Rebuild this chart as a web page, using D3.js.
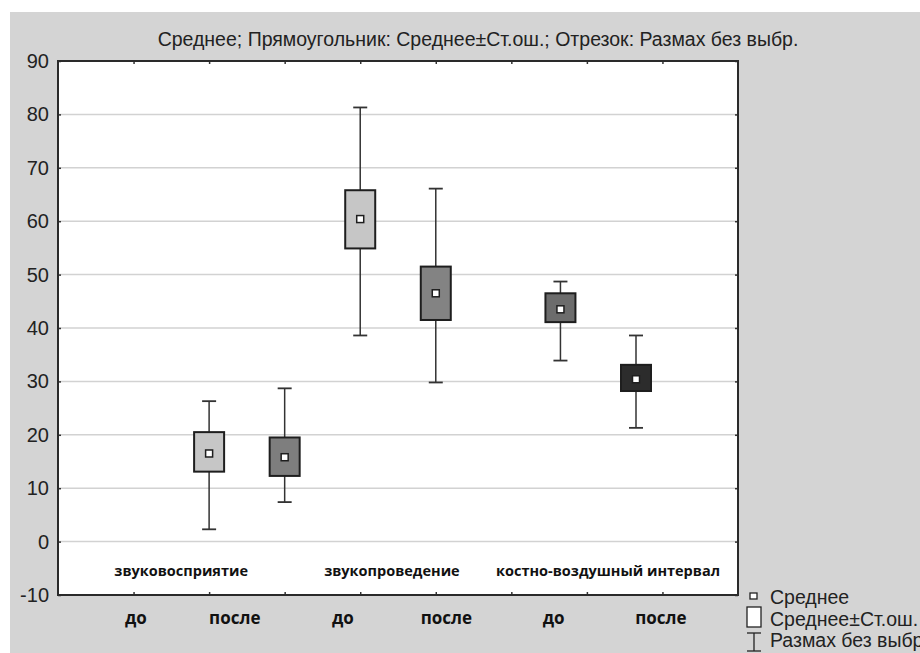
<!DOCTYPE html>
<html>
<head>
<meta charset="utf-8">
<script src="https://cdn.jsdelivr.net/npm/d3@7"></script>
<style>
  body { margin: 0; background: #fff; }
  text { font-family: "Liberation Sans", Arial, sans-serif; }
  .bold { font-family: "Open Sans", "DejaVu Sans", sans-serif; font-weight: 700; }
</style>
</head>
<body>
<svg id="chart" width="920" height="653"></svg>
<script>
// data
var boxPos   = [2, 3, 4, 5, 6.65, 7.65];
var means    = [16.5, 15.8, 60.4, 46.5, 43.5, 30.4];
var seLow    = [13.1, 12.3, 54.9, 41.5, 41.1, 28.2];
var seHigh   = [20.5, 19.5, 65.8, 51.5, 46.5, 33.1];
var rangeMin = [2.3, 7.4, 38.6, 29.8, 33.9, 21.3];
var rangeMax = [26.3, 28.7, 81.3, 66.1, 48.7, 38.6];
var boxFill  = ['#c6c6c6', '#7e7e7e', '#c6c6c6', '#838383', '#6c6c6c', '#2c2c2c'];

var groups   = ['звуковосприятие', 'звукопроведение', 'костно-воздушный интервал'];
var groupPos = [1.63, 4.42, 7.28];
var subLabels = ['до', 'после', 'до', 'после', 'до', 'после'];
var subPos    = [1.03, 2.34, 3.77, 5.14, 6.56, 7.98];
var yTicks   = [-10, 0, 10, 20, 30, 40, 50, 60, 70, 80, 90];
var xTicks   = [1, 2, 3, 4, 5, 6, 7, 8];

var title = 'Среднее; Прямоугольник: Среднее±Ст.ош.; Отрезок: Размах без выбр.';
var legendItems = ['Среднее', 'Среднее±Ст.ош.', 'Размах без выбр.'];

var svg = d3.select('#chart');
var margin = {top: 61, left: 58, right: 182, bottom: 58};
var W = 920, H = 653;

// gray panel
svg.append('rect')
    .attr('x', 10).attr('y', 12)
    .attr('width', W - 10).attr('height', H - 12)
    .attr('fill', '#d4d4d4');

var x = d3.scaleLinear().domain([0, 9]).range([margin.left, W - margin.right]);
var y = d3.scaleLinear().domain([-10, 90]).range([H - margin.bottom, margin.top]);

svg.append('rect')
    .attr('x', x(0)).attr('y', y(90))
    .attr('width', x(9) - x(0)).attr('height', y(-10) - y(90))
    .attr('fill', '#ffffff');

// grid
svg.append('g').selectAll('line')
    .data(yTicks.filter(function(d) { return d > -10 && d < 90; }))
    .enter().append('line')
    .attr('x1', x(0)).attr('x2', x(9))
    .attr('y1', function(d) { return y(d); })
    .attr('y2', function(d) { return y(d); })
    .attr('stroke', '#d2d2d2')
    .attr('stroke-width', 1.5);

// axes, ticks pointing inward
var axL = svg.append('g').attr('transform', 'translate(' + x(0) + ',0)')
    .call(d3.axisLeft(y).tickValues(yTicks).tickSize(-3).tickPadding(9)
      .tickFormat(function(d) { return String(d); }));
var axR = svg.append('g').attr('transform', 'translate(' + x(9) + ',0)')
    .call(d3.axisRight(y).tickValues(yTicks).tickSize(-3).tickFormat(''));
var axT = svg.append('g').attr('transform', 'translate(0,' + y(90) + ')')
    .call(d3.axisTop(x).tickValues(xTicks).tickSize(-3).tickFormat(''));
var axB = svg.append('g').attr('transform', 'translate(0,' + y(-10) + ')')
    .call(d3.axisBottom(x).tickValues(xTicks).tickSize(-3).tickFormat(''));

[axL, axR, axT, axB].forEach(function(a) {
  a.select('.domain').remove();
  a.selectAll('.tick line').attr('stroke', '#333').attr('stroke-width', 1.5);
});
axL.selectAll('.tick text')
    .attr('font-size', 20)
    .attr('fill', '#222')
    .style('font-family', '"Liberation Sans", Arial, sans-serif');

// frame
svg.append('rect')
    .attr('x', x(0)).attr('y', y(90))
    .attr('width', x(9) - x(0)).attr('height', y(-10) - y(90))
    .attr('fill', 'none')
    .attr('stroke', '#2a2a2a')
    .attr('stroke-width', 2);

// whiskers + boxes
var boxW = 30, capW = 14;
var items = boxPos.map(function(p, i) {
  return {pos: p, mean: means[i], lo: seLow[i], hi: seHigh[i], min: rangeMin[i], max: rangeMax[i], fill: boxFill[i]};
});

var g = svg.append('g').selectAll('g').data(items).enter().append('g');

g.append('line')
    .attr('x1', function(d) { return x(d.pos); })
    .attr('x2', function(d) { return x(d.pos); })
    .attr('y1', function(d) { return y(d.min); })
    .attr('y2', function(d) { return y(d.max); })
    .attr('stroke', '#333').attr('stroke-width', 1.5);

['min', 'max'].forEach(function(k) {
  g.append('line')
      .attr('x1', function(d) { return x(d.pos) - capW / 2; })
      .attr('x2', function(d) { return x(d.pos) + capW / 2; })
      .attr('y1', function(d) { return y(d[k]); })
      .attr('y2', function(d) { return y(d[k]); })
      .attr('stroke', '#333').attr('stroke-width', 1.8);
});

g.append('rect')
    .attr('x', function(d) { return x(d.pos) - boxW / 2; })
    .attr('y', function(d) { return y(d.hi); })
    .attr('width', boxW)
    .attr('height', function(d) { return y(d.lo) - y(d.hi); })
    .attr('fill', function(d) { return d.fill; })
    .attr('stroke', '#1e1e1e').attr('stroke-width', 2);

g.append('rect')
    .attr('x', function(d) { return x(d.pos) - 3.5; })
    .attr('y', function(d) { return y(d.mean) - 3.5; })
    .attr('width', 7).attr('height', 7)
    .attr('fill', '#fff')
    .attr('stroke', '#1e1e1e').attr('stroke-width', 1.5);

// group labels inside plot
svg.append('g').selectAll('text')
    .data(groups).enter().append('text')
    .attr('class', 'bold')
    .attr('x', function(d, i) { return x(groupPos[i]); })
    .attr('y', y(-5.5))
    .attr('text-anchor', 'middle')
    .attr('dominant-baseline', 'central')
    .attr('font-size', 14.5)
    .attr('fill', '#111')
    .text(function(d) { return d; });

// до / после under axis
svg.append('g').selectAll('text')
    .data(subLabels).enter().append('text')
    .attr('class', 'bold')
    .attr('x', function(d, i) { return x(subPos[i]); })
    .attr('y', 617)
    .attr('text-anchor', 'middle')
    .attr('dominant-baseline', 'central')
    .attr('font-size', 17)
    .attr('fill', '#111')
    .text(function(d) { return d; });

// title
svg.append('text')
    .attr('x', 478).attr('y', 39)
    .attr('text-anchor', 'middle')
    .attr('dominant-baseline', 'central')
    .attr('font-size', 19.5)
    .attr('fill', '#222')
    .text(title);

// legend
var lx = 753;
var leg = svg.append('g');
leg.append('rect').attr('x', lx - 3).attr('y', 593).attr('width', 7).attr('height', 6)
    .attr('fill', '#fff').attr('stroke', '#222').attr('stroke-width', 1.3);
leg.append('rect').attr('x', lx - 6).attr('y', 607).attr('width', 14).attr('height', 20)
    .attr('fill', '#fff').attr('stroke', '#222').attr('stroke-width', 1.3);
leg.append('line').attr('x1', lx + 1).attr('x2', lx + 1).attr('y1', 633).attr('y2', 651)
    .attr('stroke', '#222').attr('stroke-width', 1.3);
leg.append('line').attr('x1', lx - 6).attr('x2', lx + 8).attr('y1', 633).attr('y2', 633)
    .attr('stroke', '#222').attr('stroke-width', 1.3);
leg.append('line').attr('x1', lx - 6).attr('x2', lx + 8).attr('y1', 651).attr('y2', 651)
    .attr('stroke', '#222').attr('stroke-width', 1.3);
leg.selectAll('text.lg').data(legendItems).enter().append('text')
    .attr('class', 'lg')
    .attr('x', 770)
    .attr('y', function(d, i) { return 597 + i * 21.5; })
    .attr('dominant-baseline', 'central')
    .attr('font-size', 19.5)
    .attr('fill', '#222')
    .text(function(d) { return d; });
</script>
</body>
</html>
